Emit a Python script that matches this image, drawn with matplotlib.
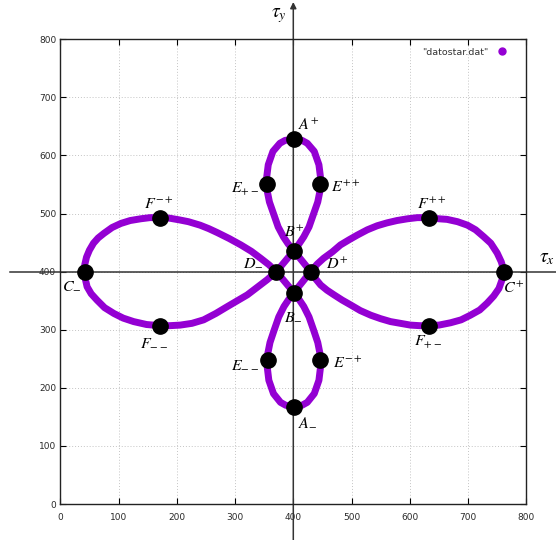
import matplotlib.pyplot as plt
from matplotlib import transforms
from matplotlib.lines import Line2D

plt.rcParams['mathtext.fontset'] = 'stix'

# centre of the tau axes
tau_x0, tau_y0 = 400, 400

# curve, in drawing order (closed loop through all four petals)
# left petal, upper edge: C- -> D-
left_up_x = [42, 42, 45, 50, 57, 65, 75, 89, 104, 120, 138, 154, 171, 188, 205, 220,
             240, 255, 270, 290, 310, 328, 344, 358, 371]
left_up_y = [400, 412, 425, 437, 449, 458, 466, 476, 483, 488, 491, 493, 493, 492, 489, 486,
             480, 474, 467, 457, 446, 435, 423, 412, 400]
# lower petal: B- -> right side -> A- -> left side -> B-
low_x = [401, 410, 418, 427, 435, 442, 446, 447, 444, 436, 424, 415, 401,
         387, 378, 366, 358, 355, 356, 360, 367, 375, 384, 392, 401]
low_y = [364, 352, 340, 322, 299, 278, 258, 238, 213, 190, 175, 170, 167,
         170, 175, 190, 213, 238, 258, 278, 299, 322, 340, 352, 364]
# right petal: D+ -> upper edge -> C+ -> lower edge -> D+
right_x = [430, 441, 452, 467, 481, 496, 510, 527, 544, 561, 578, 596, 613, 633, 650, 664,
           682, 699, 713, 727, 739, 750, 757, 762,
           758, 753, 744, 733, 720, 704, 688, 670, 650, 633, 617, 601, 584, 567, 550, 533,
           515, 498, 484, 470, 458, 447, 438, 430]
right_y = [400, 413, 423, 434, 446, 455, 463, 472, 479, 484, 488, 491, 493, 493, 491, 490,
           486, 480, 472, 460, 449, 432, 417, 400,
           385, 371, 358, 346, 334, 325, 317, 312, 308, 307, 307, 308, 311, 314, 319, 325,
           333, 343, 351, 360, 368, 377, 388, 400]
# upper petal: B+ -> left side -> A+ -> right side -> B+
up_x = [401, 391, 383, 374, 366, 359, 355, 354, 357, 365, 377, 386, 401,
        415, 424, 436, 444, 447, 446, 442, 435, 427, 418, 410, 401]
up_y = [436, 448, 460, 477, 500, 520, 540, 560, 584, 607, 621, 626, 628,
        626, 621, 607, 584, 560, 540, 520, 500, 477, 460, 448, 436]
# left petal, lower edge: D- -> C-
left_low_x = [371, 363, 355, 338, 321, 304, 287, 267, 246, 226, 206, 188, 171, 148, 126,
              108, 92, 76, 63, 53, 46, 43, 42]
left_low_y = [400, 393, 386, 373, 360, 350, 340, 328, 317, 311, 308, 307, 307, 309, 314,
              320, 328, 338, 351, 362, 374, 387, 400]

# marked points
dot_names = ['A^{+}', 'A_{-}', 'B^{+}', 'B_{-}', 'C^{+}', 'C_{-}', 'D^{+}', 'D_{-}',
             'E^{++}', 'E_{+-}', 'E_{--}', 'E^{-+}', 'F^{++}', 'F^{-+}', 'F_{--}', 'F_{+-}']
dot_x = [401, 401, 401, 401, 762, 42, 430, 371, 446, 355, 356, 446, 633, 171, 171, 633]
dot_y = [628, 167, 436, 364, 400, 400, 400, 400, 551, 551, 248, 248, 493, 493, 307, 307]

# label placement: (dx pt, dy pt, ha, va)
label_pos = {
    'A^{+}': (3, 7, 'left', 'baseline'),
    'A_{-}': (3, -5, 'left', 'top'),
    'B^{+}': (0, 10, 'center', 'baseline'),
    'B_{-}': (0, -11, 'center', 'top'),
    'C^{+}': (-1, -15, 'left', 'baseline'),
    'C_{-}': (-2, -4, 'right', 'top'),
    'D^{+}': (11, 2, 'left', 'baseline'),
    'D_{-}': (-9, 4, 'right', 'baseline'),
    'E^{++}': (8, -6, 'left', 'baseline'),
    'E_{+-}': (-6, -6, 'right', 'baseline'),
    'E_{--}': (-6, -6, 'right', 'baseline'),
    'E^{-+}': (9, -6, 'left', 'baseline'),
    'F^{++}': (2, 6, 'center', 'baseline'),
    'F^{-+}': (-1, 6, 'center', 'baseline'),
    'F_{--}': (-4, -6, 'center', 'top'),
    'F_{+-}': (-1, -6, 'center', 'top'),
}

purple = '#9400d3'

curve_x = left_up_x + low_x + right_x + up_x + left_low_x
curve_y = left_up_y + low_y + right_y + up_y + left_low_y

fig = plt.figure(figsize=(5.56, 5.40), dpi=100)
ax = fig.add_axes([60.3 / 556, 1 - 504 / 540, 466 / 556, 464.7 / 540])
ax.set_xlim(0, 800)
ax.set_ylim(0, 800)
ax.set_xticks(range(0, 801, 100))
ax.set_yticks(range(0, 801, 100))
ax.grid(True, linestyle=(0, (1, 2)), color='#c4c4c4', linewidth=0.7)
ax.set_axisbelow(True)
ax.tick_params(direction='in', top=True, right=True, length=4, width=0.8,
               labelsize=6.5, labelcolor='#2a2a2a')
ax.tick_params(axis='x', pad=6.5)
ax.tick_params(axis='y', pad=3)
for s in ax.spines.values():
    s.set_linewidth(1.0)
    s.set_color('#222222')

# tau axes crossing the whole figure
htrans = transforms.blended_transform_factory(fig.transFigure, ax.transData)
vtrans = transforms.blended_transform_factory(ax.transData, fig.transFigure)
ax.plot([10 / 556, 1], [tau_y0, tau_y0], transform=htrans, clip_on=False,
        color='#333333', lw=1.1, zorder=2)
ax.annotate('', xy=(tau_x0, 1 - 2 / 540), xycoords=vtrans,
            xytext=(tau_x0, 0), textcoords=vtrans,
            arrowprops=dict(arrowstyle='-|>', color='#333333', lw=1.1,
                            mutation_scale=9, shrinkA=0, shrinkB=0),
            annotation_clip=False, zorder=2)
fig.text(539 / 556, 1 - 262 / 540, r'$\tau_x$', fontsize=14, ha='left', va='baseline')
fig.text(271 / 556, 1 - 17 / 540, r'$\tau_y$', fontsize=14, ha='left', va='baseline')

ax.plot(curve_x, curve_y, color=purple, lw=5, solid_joinstyle='round',
        solid_capstyle='round', zorder=3)
ax.plot(dot_x, dot_y, 'o', color='black', ms=11, zorder=4, clip_on=False)

for name, x, y in zip(dot_names, dot_x, dot_y):
    dx, dy, ha, va = label_pos[name]
    ax.annotate('$' + name + '$', xy=(x, y), xytext=(dx, dy),
                textcoords='offset points', ha=ha, va=va, fontsize=11.5, zorder=5)

h = Line2D([], [], marker='o', ls='none', color=purple, ms=5, label='"datostar.dat"')
ax.legend(handles=[h], loc='upper right', bbox_to_anchor=(0.977, 0.99),
          borderaxespad=0, frameon=False, markerfirst=False, fontsize=6.8,
          handlelength=2, handletextpad=0.45, labelcolor='#333333')

fig.savefig('out.png', dpi=100)
